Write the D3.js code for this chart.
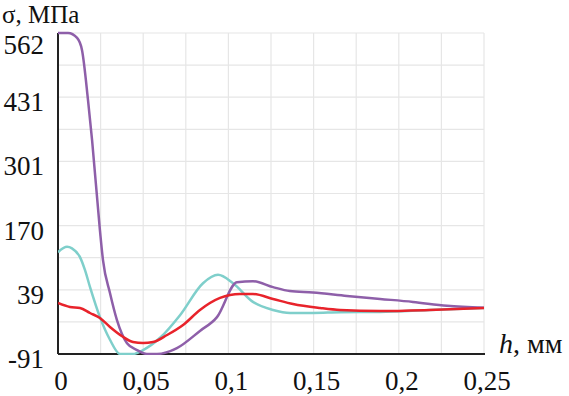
<!DOCTYPE html>
<html><head><meta charset="utf-8">
<script src="https://cdn.jsdelivr.net/npm/d3@7"></script>
<style>body{margin:0;background:#fff}svg{display:block}text{font-family:"Liberation Serif","Times New Roman",serif;fill:#111}</style>
</head><body>
<svg id="c" width="569" height="396"></svg>
<script>
const yTickValues = [-91, 39.6, 170.2, 300.8, 431.4, 562];
const yTickLabels = ["-91", "39", "170", "301", "431", "562"];
const xTickValues = [0, 0.05, 0.1, 0.15, 0.2, 0.25];
const xTickLabels = ["0", "0,05", "0,1", "0,15", "0,2", "0,25"];

const purpleH = [0, .0059, .0112, .0141, .0176, .02, .0246, .0264, .0305, .0346, .0405, .0464, .0522, .0581, .0698, .0833, .0933, .105, .1144, .1262, .136, .1496, .1696, .189, .2083, .2283, .25];
const purpleV = [562, 562, 552, 527, 426, 344, 161, 100, 33, -22, -69, -83, -91, -91, -79, -44, -16, 55, 57, 45, 37, 34, 27, 21, 15, 7, 3];

const tealH = [0, .0053, .0082, .0129, .0158, .0188, .0246, .0305, .0364, .044, .0499, .0599, .0716, .0851, .0939, .1027, .1144, .1262, .1362, .1496, .1655, .189, .218, .25];
const tealV = [116, 127, 124, 106, 80, 45, -16, -62, -91, -91, -83, -58, -12, 53, 70, 53, 15, -1.5, -7.5, -7.5, -6, -5.5, -1.5, 2.6];

const redH = [0, .007, .0129, .0188, .0246, .0305, .0381, .044, .0499, .0558, .064, .0734, .0833, .0951, .1068, .1144, .1262, .1379, .1538, .1655, .189, .218, .25];
const redV = [12.7, 4.6, 2.6, -7.6, -17.8, -36, -56, -66.6, -68.6, -66.6, -52.4, -32, -1.5, 23, 31, 31, 21, 10.7, 2.6, -1.5, -3.5, -1.5, 2.6];

const svg = d3.select("#c");
const L = 58, R = 484, T = 33, B = 354;
const x = d3.scaleLinear().domain([0, 0.25]).range([L, R]);
const y = d3.scaleLinear().domain([-91, 562]).range([B, T]);

// grid
const g = svg.append("g");
const xGrid = d3.range(0, 11).map(i => i * 0.025);
const yGrid = d3.range(0, 11).map(i => -91 + i * 65.3);
g.selectAll("line.vx").data(xGrid).join("line")
  .attr("x1", d => x(d)).attr("x2", d => x(d)).attr("y1", T).attr("y2", B)
  .attr("stroke", "#e6e6e6").attr("stroke-width", 1.2);
g.selectAll("line.hy").data(yGrid).join("line")
  .attr("x1", L).attr("x2", R).attr("y1", d => y(d)).attr("y2", d => y(d))
  .attr("stroke", "#e6e6e6").attr("stroke-width", 1.2);

// axes lines
svg.append("line").attr("x1", L).attr("x2", L).attr("y1", T).attr("y2", B).attr("stroke", "#222").attr("stroke-width", 2);
svg.append("line").attr("x1", L).attr("x2", R + 1).attr("y1", B).attr("y2", B).attr("stroke", "#222").attr("stroke-width", 2);

// tick labels
svg.selectAll("text.yl").data(yTickValues).join("text")
  .attr("x", 44).attr("y", d => Math.max(y(d) + 5, 45))
  .attr("text-anchor", "end").attr("dominant-baseline", "central")
  .attr("font-size", 27).text((d, i) => yTickLabels[i]);
svg.selectAll("text.xl").data(xTickValues).join("text")
  .attr("x", d => x(d) + 3).attr("y", 390)
  .attr("text-anchor", "middle").attr("font-size", 27)
  .text((d, i) => xTickLabels[i]);

// axis titles
svg.append("text").attr("x", 2).attr("y", 23).attr("font-size", 25).text("σ, МПа");
const xt = svg.append("text").attr("x", 499).attr("y", 353).attr("font-size", 28);
xt.append("tspan").attr("font-style", "italic").text("h");
xt.append("tspan").text(", мм");

// series
svg.append("clipPath").attr("id", "cp").append("rect").attr("x", L).attr("y", T - 2).attr("width", R - L + 2).attr("height", B - T + 3);
const line = d3.line().x(d => x(d[0])).y(d => y(d[1])).curve(d3.curveMonotoneX);
const series = [
  {h: tealH, v: tealV, c: "#7fcfcb"},
  {h: purpleH, v: purpleV, c: "#8e5fa9"},
  {h: redH, v: redV, c: "#e8232b"}
];
const sg = svg.append("g").attr("clip-path", "url(#cp)");
series.forEach(s => {
  sg.append("path").attr("d", line(s.h.map((h, i) => [h, s.v[i]])))
    .attr("fill", "none").attr("stroke", s.c).attr("stroke-width", 2.5);
});
</script>
</body></html>
